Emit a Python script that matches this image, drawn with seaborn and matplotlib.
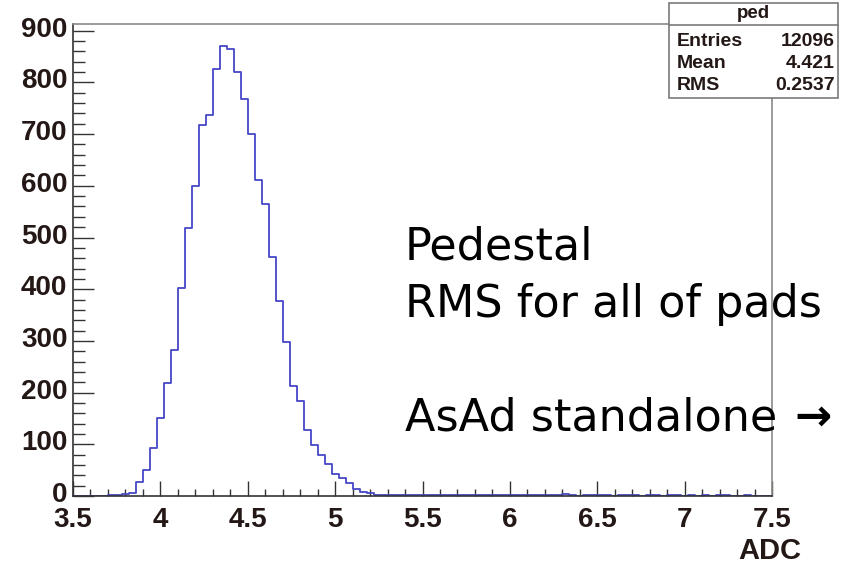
import numpy as np
import pandas as pd
import matplotlib
matplotlib.use("Agg")
import matplotlib.pyplot as plt
import matplotlib.transforms as mtransforms
from matplotlib.ticker import MultipleLocator
import seaborn as sns

# Histogram "ped": 100 bins of width 0.04 between 3.5 and 7.5 ADC
x_min, x_max, n_bins = 3.5, 7.5, 100
counts = [
    0, 0, 0, 0, 0, 1, 1, 3, 6, 28,
    50, 93, 151, 219, 283, 403, 518, 600, 717, 737,
    826, 870, 865, 821, 768, 701, 611, 565, 463, 378,
    297, 212, 183, 127, 98, 80, 61, 43, 34, 26,
    14, 8, 6, 2, 1, 2, 2, 1, 2, 1,
    2, 1, 1, 2, 1, 1, 2, 1, 1, 2,
    1, 1, 1, 2, 1, 1, 1, 1, 1, 1,
    4, 1, 0, 1, 1, 1, 1, 0, 1, 1,
    1, 0, 1, 1, 0, 1, 1, 0, 1, 0,
    1, 0, 1, 1, 0, 0, 1, 0, 0, 0,
]
stat_names = ["Entries", "Mean", "RMS"]
stat_values = ["12096", "4.421", "0.2537"]
x_ticks = [3.5, 4, 4.5, 5, 5.5, 6, 6.5, 7, 7.5]
y_ticks = [0, 100, 200, 300, 400, 500, 600, 700, 800, 900]
note_lines = ["Pedestal", "RMS for all of pads", "", "AsAd standalone"]
arrow_text = "→"

edges = np.linspace(x_min, x_max, n_bins + 1)
centers = 0.5 * (edges[:-1] + edges[1:])
hist_df = pd.DataFrame({"adc": centers, "count": counts})

sns.set_style("ticks")
plt.rcParams["font.family"] = ["Liberation Sans", "DejaVu Sans"]

fig = plt.figure(figsize=(8.46, 5.69), dpi=100)
ax = fig.add_axes([73 / 846, 73 / 569, 699 / 846, 472 / 569])

sns.histplot(data=hist_df, x="adc", weights="count", bins=edges.tolist(),
             element="step", fill=False, color="#4646c8", linewidth=1.3, ax=ax)

ax.set_xlim(x_min, x_max)
ax.set_ylim(0, 913)
ax.set_ylabel("")
ax.set_xlabel("")

ax.xaxis.set_minor_locator(MultipleLocator(0.1))
ax.yaxis.set_minor_locator(MultipleLocator(20))
ax.set_xticks(x_ticks)
ax.set_xticklabels([f"{t:g}" for t in x_ticks])
ax.set_yticks(y_ticks)
ax.set_yticklabels([str(t) for t in y_ticks])

ax.tick_params(axis="y", which="major", direction="in", length=15, width=1.0,
               color="#333333", labelsize=20, pad=4)
ax.tick_params(axis="y", which="minor", direction="in", length=8.5, width=1.0,
               color="#333333")
ax.tick_params(axis="x", which="major", direction="in", length=10.5, width=1.0,
               color="#333333", labelsize=20, pad=8)
ax.tick_params(axis="x", which="minor", direction="in", length=5, width=1.0,
               color="#333333")
lift = mtransforms.ScaledTranslation(0, 4 / 100, fig.dpi_scale_trans)
for lab in ax.get_yticklabels():
    lab.set_transform(lab.get_transform() + lift)
for lab in ax.get_xticklabels() + ax.get_yticklabels():
    lab.set_fontweight("bold")
    lab.set_color("#231815")

for side in ["left", "bottom"]:
    ax.spines[side].set_color("#333333")
    ax.spines[side].set_linewidth(1.2)
for side in ["top", "right"]:
    ax.spines[side].set_color("#8a8a8a")
    ax.spines[side].set_linewidth(1.2)

fig.text(801 / 846, 1 - 551 / 569, "ADC", ha="right", va="center",
         fontsize=21, fontweight="bold", color="#231815")

# Annotation text on the right side of the pad
y0 = 1 - 260 / 569
step = 56.7 / 569
for k, line in enumerate(note_lines):
    if line:
        fig.text(405 / 846, y0 - k * step, line, ha="left", va="baseline",
                 fontsize=32, color="black",
                 family=["DejaVu Sans"], zorder=1)
fig.text(794 / 846, y0 - 3 * step, arrow_text, ha="left", va="baseline",
         fontsize=32, fontweight="bold", color="black",
         family=["DejaVu Sans"], zorder=1)

# Statistics box
bx0, bx1 = 669 / 846, 838 / 846
by0, by1 = 1 - 98 / 569, 1 - 3 / 569
box = plt.Rectangle((bx0, by0), bx1 - bx0, by1 - by0, transform=fig.transFigure,
                    facecolor="white", edgecolor="#7a7a7a", linewidth=1.2, zorder=5)
fig.add_artist(box)
hdr_y = 1 - 25 / 569
fig.add_artist(plt.Line2D([bx0, bx1], [hdr_y, hdr_y], transform=fig.transFigure,
                          color="#7a7a7a", linewidth=1.2, zorder=6))
fig.text((bx0 + bx1) / 2, 1 - 13.5 / 569, "ped", ha="center", va="center",
         fontsize=13.5, fontweight="bold", color="#231815", zorder=7)
row_y = [42, 64, 86]
for name, val, ry in zip(stat_names, stat_values, row_y):
    fig.text(677 / 846, 1 - ry / 569, name, ha="left", va="center",
             fontsize=14, fontweight="bold", color="#231815", zorder=7)
    fig.text(835 / 846, 1 - ry / 569, val, ha="right", va="center",
             fontsize=14, fontweight="bold", color="#231815", zorder=7)

fig.savefig("out.png", dpi=100, facecolor="white")
